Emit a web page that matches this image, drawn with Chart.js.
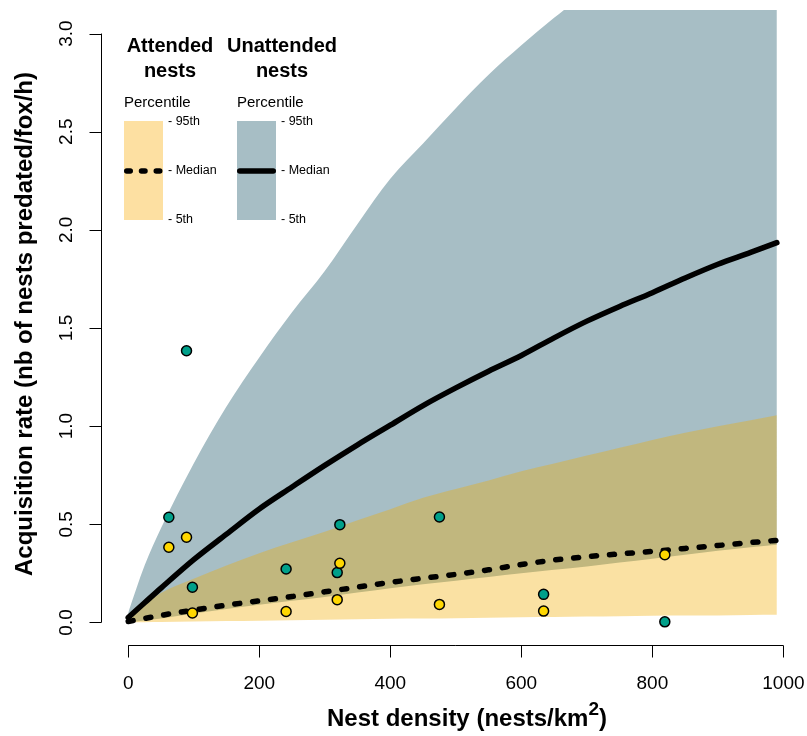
<!DOCTYPE html>
<html>
<head>
<meta charset="utf-8">
<script src="https://cdn.jsdelivr.net/npm/chart.js@4.4.1/dist/chart.umd.min.js"></script>
<style>
  html, body { margin: 0; padding: 0; background: #fff; }
  canvas { display: block; }
</style>
</head>
<body>
<canvas id="predationChart" width="807" height="736"></canvas>
<script>
// Model predictions along the nest density grid (nests/km2)
const density = [0, 25, 50, 100, 150, 200, 250, 300, 350, 400, 450, 500, 550, 600, 650, 700, 750, 800, 850, 900, 950, 990];

// Unattended nests: percentiles of the predicted acquisition rate
const unattended95 = [0.05, 0.29, 0.48, 0.81, 1.10, 1.35, 1.58, 1.79, 2.03, 2.26, 2.44, 2.62, 2.79, 2.94, 3.08, 3.21, 3.34, 3.47, 3.59, 3.71, 3.83, 3.92];
const unattendedMedian = [0.025, 0.10, 0.175, 0.32, 0.45, 0.578, 0.69, 0.80, 0.905, 1.005, 1.105, 1.195, 1.28, 1.36, 1.45, 1.535, 1.61, 1.68, 1.755, 1.825, 1.885, 1.935];
const unattended5 = [0, 0.01, 0.02, 0.045, 0.068, 0.09, 0.11, 0.13, 0.152, 0.174, 0.195, 0.213, 0.232, 0.25, 0.268, 0.285, 0.305, 0.325, 0.345, 0.365, 0.383, 0.396];

// Attended nests: percentiles of the predicted acquisition rate
const attended95 = [0.01, 0.09, 0.15, 0.222, 0.29, 0.353, 0.408, 0.462, 0.52, 0.577, 0.635, 0.68, 0.723, 0.77, 0.81, 0.85, 0.89, 0.93, 0.966, 1.0, 1.03, 1.056];
const attendedMedian = [0.005, 0.02, 0.036, 0.063, 0.088, 0.11, 0.132, 0.156, 0.18, 0.204, 0.225, 0.245, 0.268, 0.295, 0.318, 0.335, 0.349, 0.362, 0.377, 0.392, 0.407, 0.418];
const attended5 = [0, 0.001, 0.002, 0.005, 0.007, 0.009, 0.011, 0.014, 0.016, 0.019, 0.02, 0.022, 0.024, 0.027, 0.028, 0.03, 0.032, 0.034, 0.035, 0.036, 0.038, 0.039];

// Observed rates per site
const siteDensity = [62, 89, 98, 241, 319, 323, 475, 634, 819];
const unattendedObs = [0.536, 1.384, 0.179, 0.272, 0.254, 0.498, 0.537, 0.143, 0.003];
const attendedObs = [0.383, 0.434, 0.048, 0.056, 0.116, 0.301, 0.092, 0.058, 0.345];

const xTicks = [0, 200, 400, 600, 800, 1000];
const yTicks = [0, 0.5, 1, 1.5, 2, 2.5, 3];

const FONT = "'Liberation Sans', Arial, Helvetica, sans-serif";
const GREY = '#a7bec5';
const YELLOW_BAND = 'rgba(242, 173, 0, 0.36)';
const YELLOW_KEY = '#fde0a2';

function toPoints(xs, ys) {
  return xs.map((x, i) => ({ x: x, y: ys[i] }));
}

// axes drawn base-graphics style: the line only runs between the end ticks
const baseAxes = {
  id: 'baseAxes',
  afterDraw(chart) {
    const ctx = chart.ctx;
    const xs = chart.scales.x;
    const ys = chart.scales.y;
    const area = chart.chartArea;
    ctx.save();
    ctx.strokeStyle = '#000';
    ctx.fillStyle = '#000';
    ctx.lineWidth = 1;

    // bottom axis
    const ay = area.bottom - 0.5;
    ctx.beginPath();
    ctx.moveTo(xs.getPixelForValue(xTicks[0]), ay);
    ctx.lineTo(xs.getPixelForValue(xTicks[xTicks.length - 1]), ay);
    xTicks.forEach(v => {
      const px = Math.round(xs.getPixelForValue(v)) + 0.5;
      ctx.moveTo(px, ay);
      ctx.lineTo(px, ay + 12);
    });
    ctx.stroke();
    ctx.font = '19px ' + FONT;
    ctx.textAlign = 'center';
    ctx.textBaseline = 'alphabetic';
    xTicks.forEach(v => {
      ctx.fillText(String(v), xs.getPixelForValue(v), ay + 43.5);
    });

    // left axis
    const ax = area.left - 0.5;
    ctx.beginPath();
    ctx.moveTo(ax, ys.getPixelForValue(yTicks[0]));
    ctx.lineTo(ax, ys.getPixelForValue(yTicks[yTicks.length - 1]));
    yTicks.forEach(v => {
      const py = Math.round(ys.getPixelForValue(v)) + 0.5;
      ctx.moveTo(ax, py);
      ctx.lineTo(ax - 12, py);
    });
    ctx.stroke();
    yTicks.forEach(v => {
      ctx.save();
      ctx.translate(ax - 29.5, ys.getPixelForValue(v));
      ctx.rotate(-Math.PI / 2);
      ctx.fillText(v.toFixed(1), 0, 0);
      ctx.restore();
    });

    // axis titles
    ctx.font = 'bold 24px ' + FONT;
    ctx.save();
    ctx.translate(32, (area.top + area.bottom) / 2 - 4);
    ctx.rotate(-Math.PI / 2);
    ctx.fillText('Acquisition rate (nb of nests predated/fox/h)', 0, 0);
    ctx.restore();

    const main = 'Nest density (nests/km';
    ctx.textAlign = 'left';
    const wMain = ctx.measureText(main).width;
    const wClose = ctx.measureText(')').width;
    ctx.font = 'bold 19px ' + FONT;
    const wSup = ctx.measureText('2').width;
    const x0 = 467 - (wMain + wSup + wClose) / 2;
    const base = 726;
    ctx.font = 'bold 24px ' + FONT;
    ctx.fillText(main, x0, base);
    ctx.font = 'bold 19px ' + FONT;
    ctx.fillText('2', x0 + wMain, base - 11);
    ctx.font = 'bold 24px ' + FONT;
    ctx.fillText(')', x0 + wMain + wSup, base);
    ctx.restore();
  }
};

// percentile key in the upper left corner of the plot
const percentileKey = {
  id: 'percentileKey',
  afterDraw(chart) {
    const ctx = chart.ctx;
    ctx.save();
    ctx.fillStyle = '#000';
    ctx.textAlign = 'center';
    ctx.textBaseline = 'alphabetic';
    ctx.font = 'bold 20px ' + FONT;
    ctx.fillText('Attended', 170, 51.5);
    ctx.fillText('nests', 170, 77);
    ctx.fillText('Unattended', 282, 51.5);
    ctx.fillText('nests', 282, 77);

    const keys = [
      { x: 124, fill: YELLOW_KEY, dash: [3.5, 11.25] },
      { x: 237, fill: GREY, dash: [] }
    ];
    keys.forEach(k => {
      ctx.textAlign = 'left';
      ctx.font = '15px ' + FONT;
      ctx.fillStyle = '#000';
      ctx.fillText('Percentile', k.x, 107);

      ctx.fillStyle = k.fill;
      ctx.fillRect(k.x, 121, 39, 99);

      ctx.strokeStyle = '#000';
      ctx.lineWidth = 5.5;
      ctx.lineCap = 'round';
      ctx.setLineDash(k.dash);
      ctx.beginPath();
      ctx.moveTo(k.x + 2.75, 171);
      ctx.lineTo(k.x + 36.25, 171);
      ctx.stroke();
      ctx.setLineDash([]);

      ctx.fillStyle = '#000';
      ctx.font = '12.5px ' + FONT;
      ctx.textBaseline = 'middle';
      ctx.fillText('- 95th', k.x + 44, 122);
      ctx.fillText('- Median', k.x + 44, 171);
      ctx.fillText('- 5th', k.x + 44, 220);
      ctx.textBaseline = 'alphabetic';
    });
    ctx.restore();
  }
};

const hidden = 'rgba(0,0,0,0)';

new Chart(document.getElementById('predationChart'), {
  type: 'line',
  data: {
    datasets: [
      {
        label: 'Unattended 95th',
        data: toPoints(density, unattended95),
        borderColor: hidden,
        borderWidth: 0,
        backgroundColor: GREY,
        pointRadius: 0,
        cubicInterpolationMode: 'monotone',
        fill: '+1',
        order: 8
      },
      {
        label: 'Unattended 5th',
        data: toPoints(density, unattended5),
        borderColor: hidden,
        borderWidth: 0,
        pointRadius: 0,
        cubicInterpolationMode: 'monotone',
        fill: false,
        order: 8
      },
      {
        label: 'Attended 95th',
        data: toPoints(density, attended95),
        borderColor: hidden,
        borderWidth: 0,
        backgroundColor: YELLOW_BAND,
        pointRadius: 0,
        cubicInterpolationMode: 'monotone',
        fill: '+1',
        order: 6
      },
      {
        label: 'Attended 5th',
        data: toPoints(density, attended5),
        borderColor: hidden,
        borderWidth: 0,
        pointRadius: 0,
        cubicInterpolationMode: 'monotone',
        fill: false,
        order: 6
      },
      {
        label: 'Unattended median',
        data: toPoints(density, unattendedMedian),
        borderColor: '#000',
        borderWidth: 5.5,
        borderCapStyle: 'round',
        borderJoinStyle: 'round',
        pointRadius: 0,
        cubicInterpolationMode: 'monotone',
        fill: false,
        order: 4
      },
      {
        label: 'Attended median',
        data: toPoints(density, attendedMedian),
        borderColor: '#000',
        borderWidth: 5.5,
        borderDash: [5, 13],
        borderCapStyle: 'round',
        borderJoinStyle: 'round',
        pointRadius: 0,
        cubicInterpolationMode: 'monotone',
        fill: false,
        order: 3
      },
      {
        label: 'Unattended observed',
        data: toPoints(siteDensity, unattendedObs),
        showLine: false,
        pointRadius: 5,
        pointBorderWidth: 1.5,
        pointBackgroundColor: '#00a08a',
        pointBorderColor: '#000',
        order: 2
      },
      {
        label: 'Attended observed',
        data: toPoints(siteDensity, attendedObs),
        showLine: false,
        pointRadius: 5,
        pointBorderWidth: 1.5,
        pointBackgroundColor: '#ffd700',
        pointBorderColor: '#000',
        order: 1
      }
    ]
  },
  options: {
    responsive: false,
    animation: false,
    devicePixelRatio: 1,
    layout: { autoPadding: false, padding: { left: 102, right: 0, top: 10, bottom: 90 } },
    plugins: {
      legend: { display: false },
      tooltip: { enabled: false },
      title: { display: false }
    },
    events: [],
    scales: {
      x: { type: 'linear', min: -40, max: 1036, display: false },
      y: { type: 'linear', min: -0.12, max: 3.12, display: false }
    }
  },
  plugins: [baseAxes, percentileKey]
});
</script>
</body>
</html>
